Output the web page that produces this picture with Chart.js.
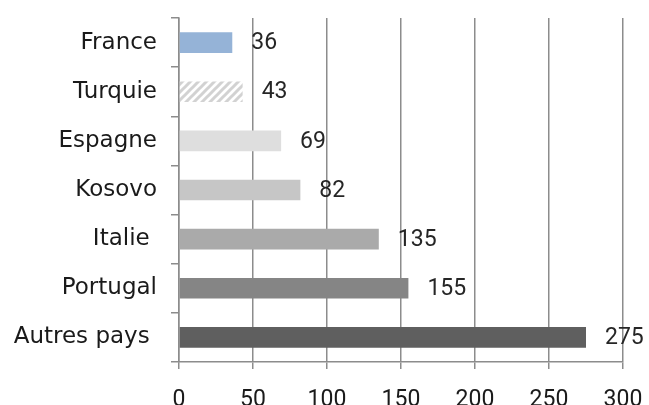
<!DOCTYPE html>
<html>
<head>
<meta charset="utf-8">
<script src="https://cdn.jsdelivr.net/npm/chart.js@4"></script>
<style>
  html, body { margin: 0; padding: 0; background: #fff; }
  #wrap { width: 649px; height: 405px; position: relative; }
</style>
</head>
<body>
<div id="wrap"><canvas id="countryChart"></canvas></div>
<script>
// Values
const countries = ['France', 'Turquie', 'Espagne', 'Kosovo', 'Italie ', 'Portugal', 'Autres pays '];
const counts = [36, 43, 69, 82, 135, 155, 275];
const xTicks = [0, 50, 100, 150, 200, 250, 300];

// diagonal hatch for the Turquie bar
function makeHatch() {
    const c = document.createElement('canvas');
    c.width = 8; c.height = 8;
    const g = c.getContext('2d');
    g.fillStyle = '#ffffff';
    g.fillRect(0, 0, 8, 8);
    g.strokeStyle = '#d2d2d2';
    g.lineWidth = 3;
    g.beginPath();
    g.moveTo(-2, 10); g.lineTo(10, -2);
    g.moveTo(-6, 6); g.lineTo(6, -6);
    g.moveTo(2, 14); g.lineTo(14, 2);
    g.stroke();
    return g.createPattern(c, 'repeat');
}

const barColors = ['#95b3d7', makeHatch(), '#dedede', '#c6c6c6', '#aaaaaa', '#858585', '#5f5f5f'];

// value labels to the right of each bar
const valueLabels = {
    id: 'valueLabels',
    afterDatasetsDraw(chart) {
        const ctx = chart.ctx;
        const meta = chart.getDatasetMeta(0);
        ctx.save();
        ctx.font = '23px Roboto';
        ctx.fillStyle = '#262626';
        ctx.textAlign = 'left';
        ctx.textBaseline = 'middle';
        meta.data.forEach(function(bar, i) {
            ctx.fillText(String(counts[i]), bar.x + 19, bar.y + 1);
        });
        ctx.restore();
    }
};

new Chart(document.getElementById('countryChart'), {
    type: 'bar',
    data: {
        labels: countries,
        datasets: [{
            data: counts,
            backgroundColor: barColors,
            borderWidth: 0,
            barPercentage: 0.42,
            categoryPercentage: 1
        }]
    },
    options: {
        indexAxis: 'y',
        responsive: true,
        maintainAspectRatio: false,
        animation: false,
        layout: { padding: { top: 18, right: 26, left: 0, bottom: 0 } },
        plugins: {
            legend: { display: false },
            tooltip: { enabled: false }
        },
        scales: {
            x: {
                min: 0,
                max: 300,
                afterBuildTicks: function(axis) {
                    axis.ticks = xTicks.map(function(v) { return { value: v }; });
                },
                afterFit: function(axis) {
                    axis.height = 43;
                    axis.paddingLeft = 0;
                    axis.paddingRight = 0;
                },
                border: { color: '#8c8c8c', width: 1.5 },
                grid: { color: '#8c8c8c', lineWidth: 1.5, tickLength: 7 },
                ticks: { color: '#1a1a1a', font: { family: 'Roboto', size: 23 }, padding: 17, maxRotation: 0, minRotation: 0 }
            },
            y: {
                afterFit: function(axis) {
                    axis.width = 179;
                    axis.paddingTop = 0;
                    axis.paddingBottom = 0;
                },
                border: { color: '#8c8c8c', width: 1.5 },
                grid: { drawOnChartArea: false, color: '#8c8c8c', lineWidth: 1.5, tickLength: 8 },
                ticks: { color: '#1a1a1a', font: { family: "'DejaVu Sans'", size: 23 }, padding: 14 }
            }
        }
    },
    plugins: [valueLabels]
});
</script>
</body>
</html>
